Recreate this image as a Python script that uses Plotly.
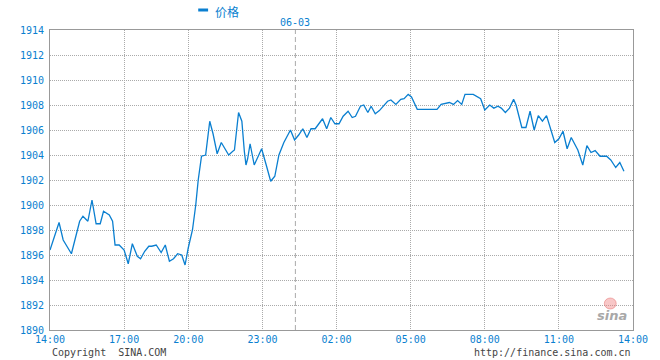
import plotly.graph_objects as go

# time axis in trading minutes from 14:00 (non-uniform session scale)
minutes = [0, 22, 32, 52, 72, 80, 92, 102, 112, 122, 130, 144, 152, 158, 168, 180, 190, 200, 212, 220,
           230, 240, 247, 258, 270, 280, 290, 300, 310, 320, 328, 336, 346, 354, 360, 368, 378, 388, 396, 406,
           416, 426, 434, 444, 448, 458, 466, 472, 476, 480, 486, 496, 506, 514, 526, 536, 546, 556, 568, 584,
           594, 604, 614, 624, 634, 644, 662, 672, 682, 692, 702, 712, 724, 734, 742, 754, 762, 772, 780, 790,
           800, 810, 820, 828, 840, 852, 860, 870, 878, 892, 940, 950, 960, 970, 980, 990, 1000, 1008, 1028, 1038,
           1046, 1056, 1068, 1078, 1088, 1096, 1106, 1116, 1126, 1132, 1146, 1156, 1166, 1176, 1186, 1196, 1206, 1226, 1236, 1246,
           1256, 1266, 1282, 1294, 1304, 1314, 1324, 1336, 1352, 1362, 1374, 1384, 1394]
price = [1896.4, 1898.6, 1897.2, 1896.1, 1898.7, 1899.1, 1898.7, 1900.4, 1898.5, 1898.5, 1899.5, 1899.2, 1898.7, 1896.8, 1896.8, 1896.4, 1895.3, 1896.9, 1895.9, 1895.7,
         1896.3, 1896.7, 1896.7, 1896.8, 1896.2, 1896.8, 1895.5, 1895.7, 1896.1, 1896.0, 1895.2, 1896.6, 1898.0, 1900.0, 1902.0, 1903.9, 1904.0, 1906.7, 1905.7, 1904.1,
         1905.0, 1904.4, 1904.0, 1904.3, 1904.4, 1907.4, 1906.7, 1904.3, 1903.2, 1903.7, 1904.9, 1903.2, 1904.0, 1904.5, 1903.1, 1901.9, 1902.3, 1904.0, 1905.0, 1906.0,
         1905.2, 1905.6, 1906.1, 1905.4, 1906.1, 1906.1, 1906.9, 1906.1, 1907.0, 1906.5, 1906.5, 1907.1, 1907.5, 1907.0, 1907.1, 1907.9, 1908.0, 1907.4, 1907.9, 1907.3,
         1907.55, 1907.9, 1908.3, 1908.4, 1908.05, 1908.45, 1908.5, 1908.85, 1908.65, 1907.65, 1907.65, 1908.05, 1908.1, 1908.2, 1908.05, 1908.35, 1908.05, 1908.85, 1908.85, 1908.65,
         1908.5, 1907.6, 1908.0, 1907.75, 1907.9, 1907.75, 1907.4, 1907.75, 1908.45, 1908.0, 1906.2, 1906.2, 1907.5, 1906.0, 1907.15, 1906.7, 1907.15, 1905.0, 1905.3, 1905.9,
         1904.5, 1905.4, 1904.4, 1903.2, 1904.75, 1904.2, 1904.35, 1903.9, 1903.9, 1903.6, 1903.0, 1903.4, 1902.7]

x_tickvals = [0, 180, 336, 516, 696, 876, 1056, 1236, 1416]
x_ticktext = ["14:00", "17:00", "20:00", "23:00", "02:00", "05:00", "08:00", "11:00", "14:00"]
day_break = 596
day_label = "06-03"
series_name = "价格"

blue = "#0a7fd0"
grid = "#aaaaaa"
mono = "DejaVu Sans Mono"

fig = go.Figure()
fig.add_trace(go.Scatter(x=minutes, y=price, mode="lines", name=series_name,
                         line=dict(color=blue, width=1.3), showlegend=False))

fig.update_layout(
    width=660, height=360,
    margin=dict(l=50, r=20, t=30, b=30),
    plot_bgcolor="white", paper_bgcolor="white",
    xaxis=dict(range=[0, 1416], tickvals=x_tickvals, ticktext=x_ticktext,
               showgrid=True, gridcolor=grid, griddash="1px,1px", gridwidth=1,
               showline=True, mirror=True, linecolor="#999999", linewidth=1,
               ticks="", tickfont=dict(family=mono, size=10, color=blue), zeroline=False),
    yaxis=dict(range=[1890, 1914], dtick=2, tick0=1890,
               showgrid=True, gridcolor=grid, griddash="1px,1px", gridwidth=1,
               showline=True, mirror=True, linecolor="#999999", linewidth=1,
               ticks="", ticklabelstandoff=3,
               tickfont=dict(family=mono, size=10, color=blue), zeroline=False),
    shapes=[
        dict(type="line", xref="x", yref="paper", x0=day_break, x1=day_break, y0=0, y1=1,
             line=dict(color="#aaaaaa", width=1, dash="5px,3px")),
        dict(type="line", xref="paper", yref="paper", x0=(200 - 50) / 590, x1=(210 - 50) / 590,
             y0=(330 - 10) / 300, y1=(330 - 10) / 300, line=dict(color=blue, width=3)),
        dict(type="circle", xref="paper", yref="paper", x0=(611 - 50) / 590, x1=(623 - 50) / 590,
             y0=(330 - 309) / 300, y1=(330 - 298) / 300,
             fillcolor="rgba(240,130,130,0.45)", line=dict(color="rgba(230,110,110,0.5)", width=1)),
    ],
    annotations=[
        dict(text=series_name, xref="paper", yref="paper", x=(215 - 50) / 590, y=(330 - 11) / 300,
             xanchor="left", yanchor="middle", showarrow=False,
             font=dict(family="Noto Sans CJK SC", size=12, color=blue)),
        dict(text=day_label, xref="x", yref="paper", x=day_break, y=(330 - 22) / 300,
             xanchor="center", yanchor="middle", showarrow=False,
             font=dict(family=mono, size=10, color=blue)),
        dict(text="Copyright  SINA.COM", xref="paper", yref="paper", x=0, y=(330 - 352) / 300,
             xanchor="left", yanchor="middle", showarrow=False,
             font=dict(family=mono, size=10, color="#444444")),
        dict(text="http://finance.sina.com.cn", xref="paper", yref="paper", x=1, y=(330 - 352) / 300,
             xanchor="right", yanchor="middle", showarrow=False,
             font=dict(family=mono, size=10, color="#444444")),
        dict(text="<b><i>sina</i></b>", xref="paper", yref="paper", x=(619 - 50) / 590, y=(330 - 315) / 300,
             xanchor="center", yanchor="middle", showarrow=False,
             font=dict(family="DejaVu Sans", size=13, color="#a8a8a8")),
    ],
)

fig.write_html("out.html", config={"displayModeBar": False},
               post_script="document.body.style.margin='0';")
